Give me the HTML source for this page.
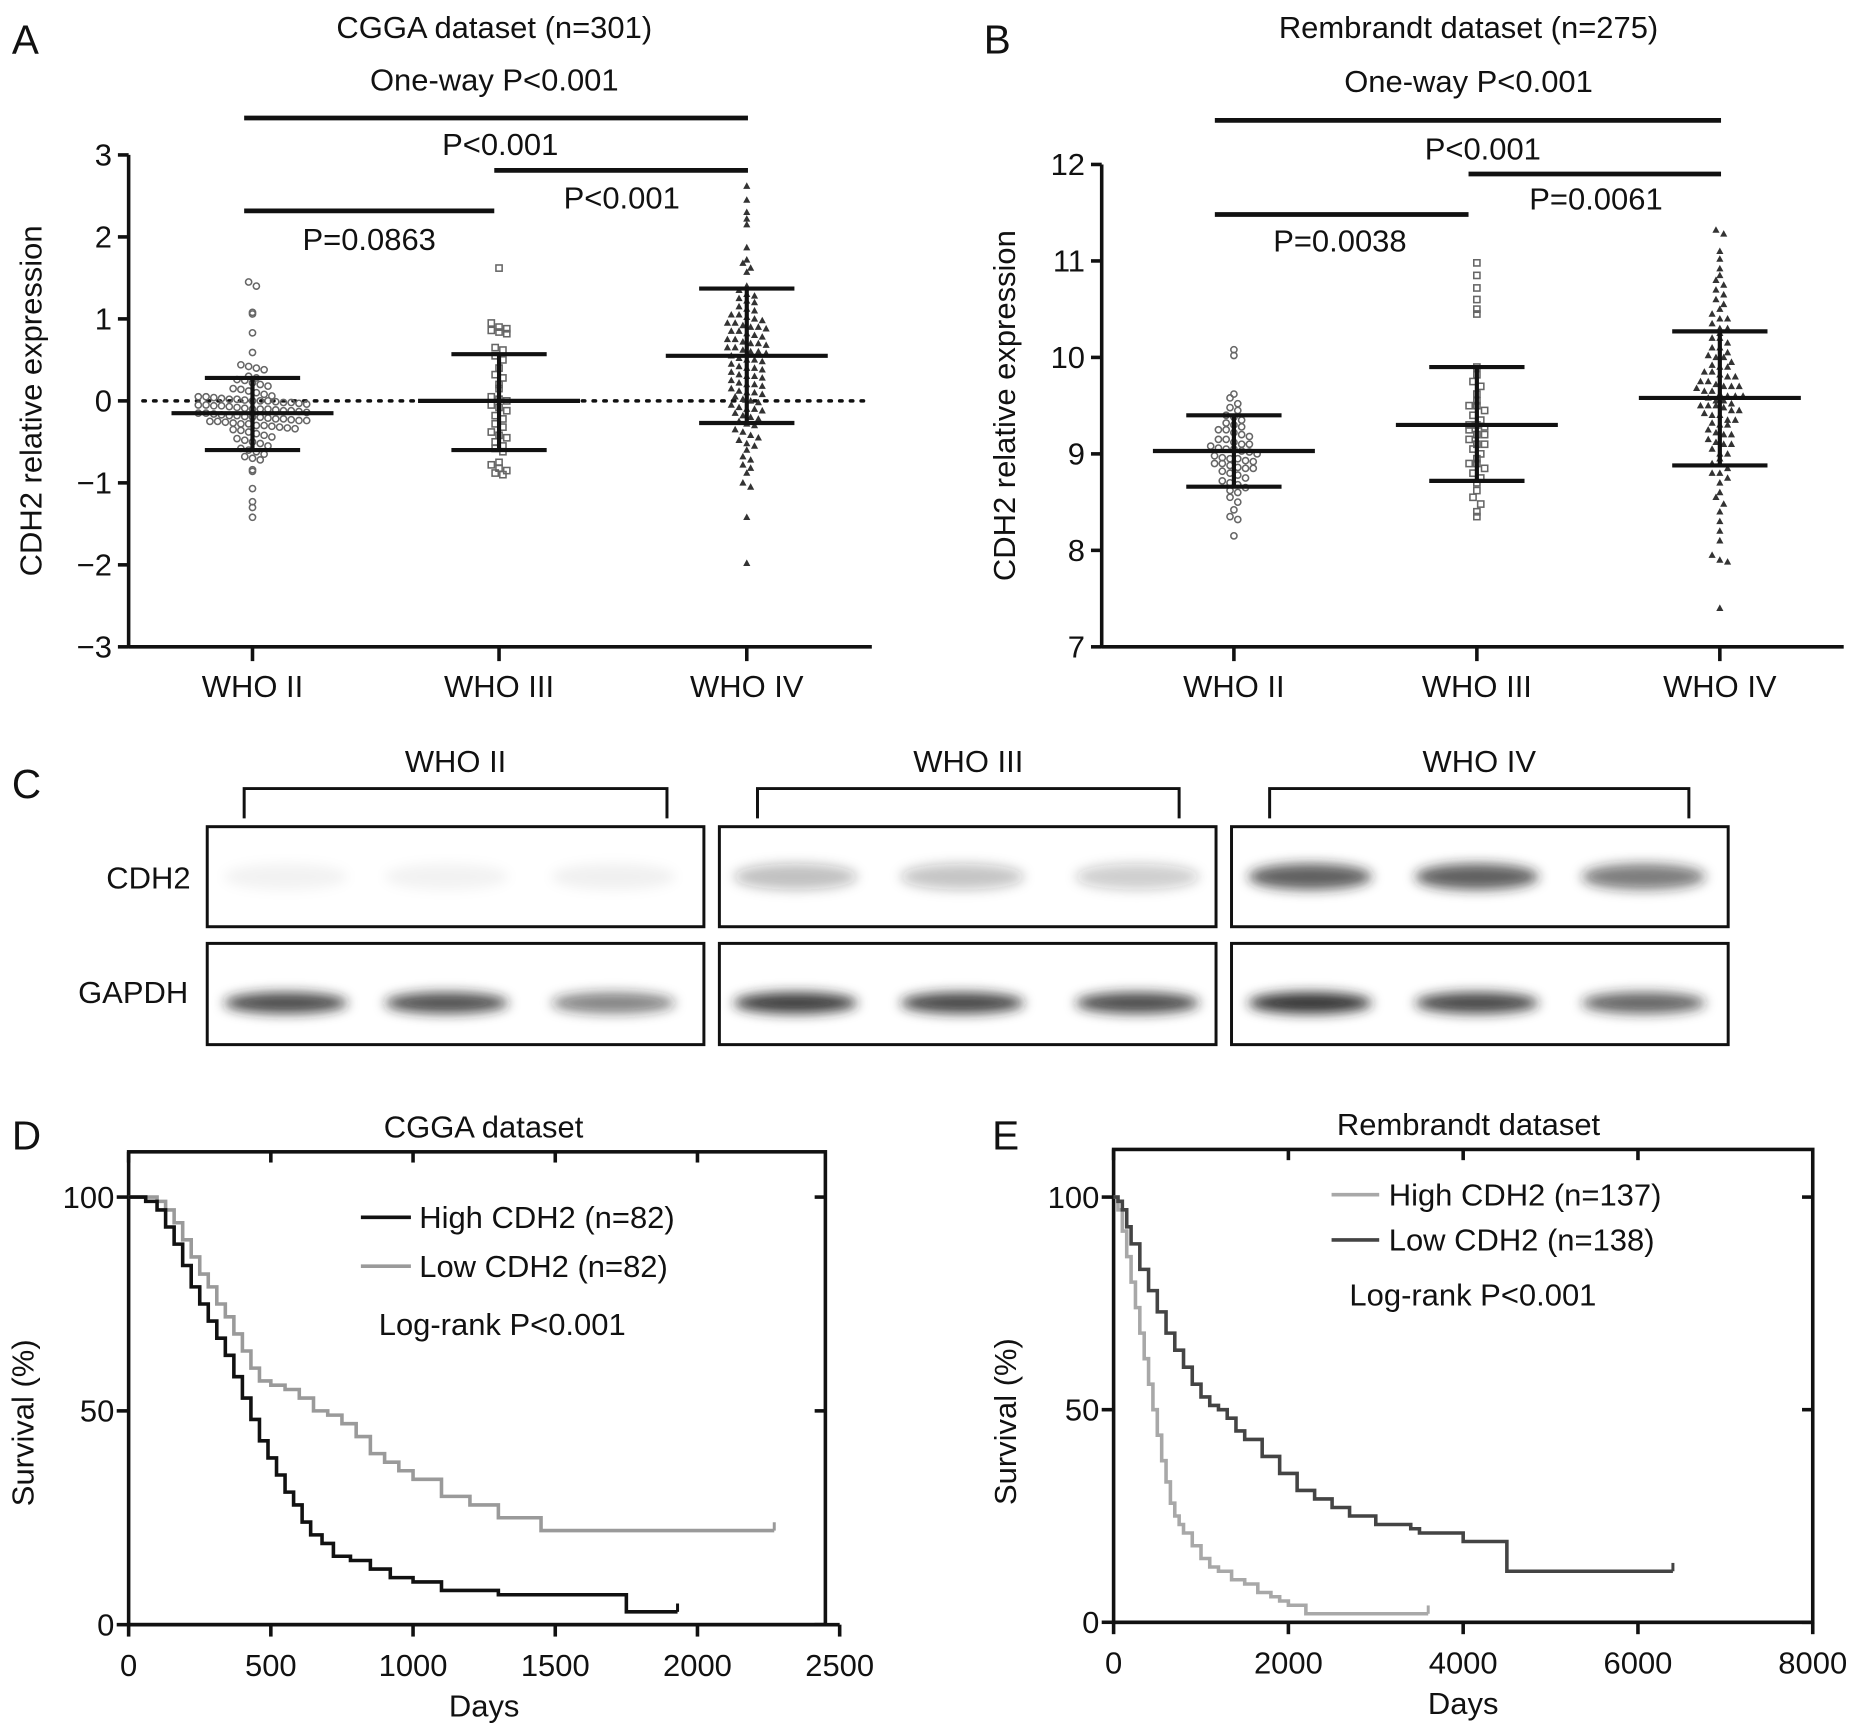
<!DOCTYPE html>
<html><head><meta charset="utf-8"><style>
html,body{margin:0;padding:0;background:#fff}
svg{display:block}
text{font-family:"Liberation Sans",Arial,sans-serif;fill:#111}
</style></head><body>
<svg id="fig" width="1858" height="1726" viewBox="0 0 1560 1449" xmlns="http://www.w3.org/2000/svg">
<defs>
<filter id="blur" x="-30%" y="-80%" width="160%" height="260%"><feGaussianBlur stdDeviation="5"/></filter>
</defs>
<g id="gA"></g>
<g id="gB"></g>
<g id="gC"></g>
<g id="gD"></g>
<g id="gE"></g>
</svg>
<script>
// ---------- data ----------
const groupLabels = ["WHO II","WHO III","WHO IV"];
const aTicks = [3,2,1,0,-1,-2,-3];
const aMeans = [-0.15,0.0,0.55];
const aSdHi = [0.28,0.57,1.37];
const aSdLo = [-0.60,-0.60,-0.27];
const aII = [1.45,1.40,1.08,1.06,0.83,0.59,0.44,0.42,0.40,0.38,0.30,0.28,0.26,0.25,0.22,0.20,0.18,0.15,0.14,0.12,0.10,0.08,0.06,0.05,0.04,0.03,0.02,0.01,0.0,-0.01,-0.02,-0.03,-0.04,-0.05,-0.06,-0.07,-0.08,-0.09,-0.10,-0.11,-0.12,-0.13,-0.14,-0.15,-0.16,-0.17,-0.18,-0.19,-0.20,-0.21,-0.22,-0.23,-0.24,-0.25,-0.26,-0.27,-0.28,-0.30,-0.31,-0.32,-0.33,-0.34,-0.36,-0.38,-0.40,-0.42,-0.44,-0.46,-0.48,-0.50,-0.52,-0.55,-0.58,-0.60,-0.62,-0.65,-0.68,-0.70,-0.72,-0.84,-0.86,-1.07,-1.23,-1.30,-1.42,0.05,-0.05,-0.15,-0.25,-0.35,-0.1,-0.2,-0.3,0.0,-0.12,-0.22,0.02,-0.02,-0.06,-0.18,-0.28,-0.24,0.0,-0.1];
const aIII = [1.62,0.95,0.90,0.88,0.86,0.84,0.82,0.65,0.62,0.55,0.50,0.40,0.32,0.28,0.20,0.15,0.05,0.02,0.0,-0.05,-0.08,-0.12,-0.18,-0.22,-0.28,-0.32,-0.38,-0.42,-0.45,-0.50,-0.55,-0.58,-0.62,-0.75,-0.78,-0.82,-0.85,-0.88,-0.90];
const aIV = [2.62,2.45,2.30,2.22,2.15,1.87,1.72,1.68,1.62,1.57,1.40,1.35,1.30,1.28,1.25,1.22,1.15,1.12,1.10,1.05,1.02,1.0,0.98,0.95,0.92,0.90,0.88,0.85,0.82,0.80,0.78,0.75,0.72,0.70,0.68,0.65,0.62,0.60,0.58,0.55,0.52,0.50,0.48,0.45,0.42,0.40,0.38,0.35,0.32,0.30,0.28,0.25,0.22,0.20,0.18,0.15,0.12,0.10,0.08,0.05,0.02,0.0,-0.02,-0.05,-0.08,-0.10,-0.12,-0.15,-0.18,-0.20,-0.22,-0.25,-0.28,-0.30,-0.35,-0.38,-0.42,-0.45,-0.48,-0.52,-0.55,-0.60,-0.68,-0.72,-0.78,-0.82,-0.88,-1.0,-1.05,-1.42,-1.98,0.7,0.9,0.3,0.5,1.2,0.6,0.1,0.85,0.75,0.4,0.2,-0.1,0.65,1.05,0.95];
const bTicks = [12,11,10,9,8,7];
const bMeans = [9.03,9.30,9.58];
const bSdHi = [9.40,9.90,10.27];
const bSdLo = [8.66,8.72,8.88];
const bII = [10.08,10.02,9.62,9.58,9.52,9.48,9.45,9.40,9.38,9.35,9.32,9.30,9.28,9.25,9.22,9.20,9.18,9.15,9.12,9.10,9.08,9.06,9.05,9.03,9.02,9.0,8.98,8.96,8.95,8.93,8.92,8.90,8.88,8.86,8.85,8.82,8.80,8.78,8.75,8.72,8.70,8.68,8.65,8.62,8.60,8.55,8.50,8.42,8.35,8.32,8.15,9.15,9.05,8.95,8.85,9.25,9.1,8.9];
const bIII = [10.98,10.85,10.72,10.60,10.50,10.45,9.90,9.82,9.75,9.70,9.62,9.55,9.50,9.45,9.40,9.35,9.30,9.28,9.25,9.20,9.15,9.10,9.05,9.0,8.95,8.90,8.85,8.80,8.75,8.70,8.62,8.55,8.48,8.40,8.35,9.2,9.3,9.1,8.9,9.5];
const bIV = [11.32,11.28,11.10,11.02,10.92,10.85,10.80,10.75,10.70,10.65,10.60,10.55,10.50,10.45,10.40,10.35,10.30,10.25,10.20,10.15,10.10,10.05,10.0,9.95,9.90,9.85,9.80,9.75,9.70,9.65,9.60,9.55,9.50,9.45,9.40,9.35,9.30,9.25,9.20,9.15,9.10,9.05,9.0,8.95,8.90,8.85,8.80,8.75,8.70,8.60,8.55,8.48,8.40,8.30,8.20,8.10,7.95,7.90,7.88,7.40,9.6,9.7,9.5,9.8,9.4,9.9,9.3,10.0,9.2,10.1,9.1,10.2,9.0,9.6,9.7,9.5,9.55,9.65,9.75,9.45,9.35,9.85,10.3,10.4,8.9,8.8,9.62,9.52,9.42,9.72,9.82,9.32,9.22,9.12,9.92,10.02,9.58,9.48,9.68];
// blot intensities (0..1)
const cdh2Int = [[0.05,0.05,0.06],[0.28,0.26,0.22],[0.72,0.72,0.58]];
const gapdhInt = [[0.80,0.78,0.55],[0.88,0.82,0.80],[0.92,0.82,0.70]];
// survival D (days, percent)
const dHighT = [0,60,100,130,160,190,220,250,280,310,340,370,400,430,460,490,520,550,580,610,640,680,720,780,850,920,1000,1100,1300,1700,1750,1930];
const dHighS = [100,99,97,93,89,84,79,75,71,67,63,58,53,48,43,39,35,31,28,24,21,19,16,15,13,11,10,8,7,7,3,3];
const dLowT = [0,100,130,160,190,220,250,280,310,340,370,400,430,460,500,550,600,650,700,750,800,850,900,950,1000,1100,1200,1300,1450,2270];
const dLowS = [100,99,97,94,90,86,82,79,75,72,68,64,60,57,56,55,53,50,49,47,44,40,38,36,34,30,28,25,22,22];
const eHighT = [0,50,100,150,200,250,300,350,400,450,500,550,600,650,700,750,800,900,1000,1100,1200,1350,1500,1650,1800,1900,2000,2200,3600];
const eHighS = [100,97,92,86,80,74,68,62,56,50,44,38,33,28,25,23,21,18,15,13,12,10,9,7,6,5,4,2,2];
const eLowT = [0,50,100,150,200,300,400,500,600,700,800,900,1000,1100,1200,1300,1400,1500,1700,1900,2100,2300,2500,2700,3000,3400,3500,4000,4500,6400];
const eLowS = [100,99,97,93,89,83,78,73,68,64,60,56,53,51,50,48,45,43,39,35,31,29,27,25,23,22,21,19,12,12];
const dXTicks = [0,500,1000,1500,2000,2500];
const eXTicks = [0,2000,4000,6000,8000];
const survTicks = [0,50,100];

// ---------- helpers ----------
const NS="http://www.w3.org/2000/svg";
function mk(parent,tag,attrs,txt){const e=document.createElementNS(NS,tag);for(const k in attrs)e.setAttribute(k,attrs[k]);if(txt!==undefined)e.textContent=txt;parent.appendChild(e);return e;}
function line(p,x1,y1,x2,y2,w,c,name){const e=mk(p,'line',{x1,y1,x2,y2,stroke:c||'#111','stroke-width':w||2});

return e;}
function txt(p,x,y,s,size,anchor,name,extra){const e=mk(p,'text',Object.assign({x,y,'font-size':size||24,'text-anchor':anchor||'middle'},extra||{}),s);

return e;}

function scatterPanel(g,o){
  const y=v=>o.y0+(o.vmax-v)*(o.y1-o.y0)/(o.vmax-o.vmin);
  line(g,o.ax,o.y0,o.ax,o.y1+1,3,'#111','y-axis');
  line(g,o.ax,o.y1,o.axEnd,o.y1,3,'#111','x-axis');
  o.ticks.forEach(t=>{line(g,o.ax-9,y(t),o.ax,y(t),3,'#111','y-tick');
    txt(g,o.ax-14,y(t)+9,(t<0?'\u2212'+(-t):String(t)),26,'end','y-tick-label');});
  o.cx.forEach((cx,i)=>{line(g,cx,o.y1,cx,o.y1+12,3,'#111','x-tick');
    txt(g,cx,o.y1+42,groupLabels[i],26,'middle','x-tick-label');});
  if(o.dotted){const d=line(g,o.ax+12,y(0),o.axEnd,y(0),3,'#111','zero-reference-line');d.setAttribute('stroke-dasharray','2,7');d.setAttribute('stroke-linecap','round');}
  o.data.forEach((vals,i)=>{
    const sorted=[...vals].sort((a,b)=>b-a);
    const bins={};
    sorted.forEach(v=>{const k=Math.round(y(v)/7);(bins[k]=bins[k]||[]).push(v);});
    Object.keys(bins).forEach(k=>{const arr=bins[k];const n=arr.length;
      arr.forEach((v,j)=>{const px=o.cx[i]+(j-(n-1)/2)*6.5;const py=y(v);let e;
        if(o.shapes[i]==='c'){e=mk(g,'circle',{cx:px,cy:py,r:2.6,fill:'none',stroke:'#666','stroke-width':1.3});}
        else if(o.shapes[i]==='s'){e=mk(g,'rect',{x:px-2.6,y:py-2.6,width:5.2,height:5.2,fill:'none',stroke:'#666','stroke-width':1.3});}
        else {e=mk(g,'path',{d:`M${px},${py-3.2}L${px+3},${py+2.3}L${px-3},${py+2.3}Z`,fill:'#333'});}
        
        
      });});
  });
  o.cx.forEach((cx,i)=>{
    line(g,cx-68,y(o.means[i]),cx+68,y(o.means[i]),3.5,'#111','mean-line');
    line(g,cx,y(o.hi[i]),cx,y(o.lo[i]),3.5,'#111','sd-bar');
    line(g,cx-40,y(o.hi[i]),cx+40,y(o.hi[i]),3.5,'#111','sd-cap-upper');
    line(g,cx-40,y(o.lo[i]),cx+40,y(o.lo[i]),3.5,'#111','sd-cap-lower');
  });
  txt(g,0,0,'CDH2 relative expression',26,'middle','y-axis-title',{transform:`translate(${o.ylx},${(o.y0+o.y1)/2}) rotate(-90)`});
}

// ---------- Panel A ----------
const gA=document.getElementById('gA');
txt(gA,10,45,'A',34,'start','panel-letter-a');
txt(gA,415,32,'CGGA dataset (n=301)',26,'middle','chart-title');
txt(gA,415,76,'One-way   P<0.001',26,'middle','anova-p-value');
line(gA,205,99,628,99,4,'#111','bracket-ii-iv');
line(gA,415,143,628,143,4,'#111','bracket-iii-iv');
line(gA,205,177,415,177,4,'#111','bracket-ii-iii');
txt(gA,420,130,'P<0.001',26,'middle','p-ii-iv');
txt(gA,522,175,'P<0.001',26,'middle','p-iii-iv');
txt(gA,310,210,'P=0.0863',26,'middle','p-ii-iii');
scatterPanel(gA,{ax:108,axEnd:732,y0:130,y1:543,vmax:3,vmin:-3,ticks:aTicks,cx:[212,419,627],dotted:true,
  data:[aII,aIII,aIV],shapes:['c','s','t'],means:aMeans,hi:aSdHi,lo:aSdLo,ylx:35});

// ---------- Panel B ----------
const gB=document.getElementById('gB');
txt(gB,826,45,'B',34,'start','panel-letter-b');
txt(gB,1233,32,'Rembrandt dataset (n=275)',26,'middle','chart-title');
txt(gB,1233,77,'One-way   P<0.001',26,'middle','anova-p-value');
line(gB,1020,101,1445,101,4,'#111','bracket-ii-iv');
line(gB,1233,146,1445,146,4,'#111','bracket-iii-iv');
line(gB,1020,180,1233,180,4,'#111','bracket-ii-iii');
txt(gB,1245,134,'P<0.001',26,'middle','p-ii-iv');
txt(gB,1340,176,'P=0.0061',26,'middle','p-iii-iv');
txt(gB,1125,211,'P=0.0038',26,'middle','p-ii-iii');
scatterPanel(gB,{ax:925,axEnd:1548,y0:138,y1:543,vmax:12,vmin:7,ticks:bTicks,cx:[1036,1240,1444],dotted:false,
  data:[bII,bIII,bIV],shapes:['c','s','t'],means:bMeans,hi:bSdHi,lo:bSdLo,ylx:852});

// ---------- Panel C ----------
const gC=document.getElementById('gC');
txt(gC,10,670,'C',34,'start','panel-letter-c');
const boxX=[[174,591],[604,1021],[1034,1451]];
const brX=[[205,560],[636,990],[1066,1418]];
const lanes=[[240,375,515],[668,808,955],[1100,1240,1380]];
boxX.forEach((b,i)=>{
  txt(gC,(brX[i][0]+brX[i][1])/2,648,groupLabels[i],26,'middle','group-label');
  const br=mk(gC,'path',{d:`M${brX[i][0]},687V662H${brX[i][1]}V687`,fill:'none',stroke:'#111','stroke-width':2.5});
  
  
  [[694,778,cdh2Int,736],[792,877,gapdhInt,842]].forEach(([t,bt,ints,cy])=>{
    const r=mk(gC,'rect',{x:b[0],y:t,width:b[1]-b[0],height:bt-t,fill:'#fff',stroke:'#111','stroke-width':2.5});
    
    
    lanes[i].forEach((lx,j)=>{const v=ints[i][j];
      const e=mk(gC,'ellipse',{cx:lx,cy:cy,rx:52,ry:ints===cdh2Int?11:9,fill:'#222','fill-opacity':v,filter:'url(#blur)'});
      
      });
  });
});
txt(gC,160,746,'CDH2',26,'end','row-label-cdh2');
txt(gC,158,842,'GAPDH',26,'end','row-label-gapdh');

// ---------- survival panels ----------
function survPanel(g,o){
  const sx=t=>o.x0+t*(o.x1-o.x0)/o.tmax;
  const sy=s=>o.y0+(100-s)*(o.yz-o.y0)/100;
  const fr=mk(g,'rect',{x:o.x0,y:o.top,width:o.right-o.x0,height:o.yz-o.top,fill:'none',stroke:'#111','stroke-width':3});
  
  
  line(g,o.x0,o.yz,o.x1,o.yz,3,'#111','x-axis');
  o.xt.forEach(t=>{line(g,sx(t),o.yz,sx(t),o.yz+10,3,'#111','x-tick');
    if(sx(t)<o.right) line(g,sx(t),o.top,sx(t),o.top+9,3,'#111','x-tick-top');
    txt(g,sx(t),o.yz+43,String(t),26,'middle','x-tick-label');});
  survTicks.forEach(s=>{line(g,o.x0-10,sy(s),o.x0,sy(s),3,'#111','y-tick');
    line(g,o.right-9,sy(s),o.right,sy(s),3,'#111','y-tick-right');
    txt(g,o.x0-12,sy(s)+9,String(s),26,'end','y-tick-label');});
  txt(g,(o.x0+o.x1)/2,o.yz+77,'Days',26,'middle','x-axis-title');
  txt(g,0,0,'Survival (%)',26,'middle','y-axis-title',{transform:`translate(${o.ylx},${(o.y0+o.yz)/2+10}) rotate(-90)`});
  o.series.forEach(s=>{
    let d=`M${sx(s.t[0])},${sy(s.s[0])}`;
    for(let i=1;i<s.t.length;i++){d+=`H${sx(s.t[i])}V${sy(s.s[i])}`;}
    const p=mk(g,'path',{d,fill:'none',stroke:s.c,'stroke-width':3});
    
    
    const last=s.t.length-1;
    line(g,sx(s.t[last]),sy(s.s[last])-7,sx(s.t[last]),sy(s.s[last]),2.5,s.c,'censor-mark');
  });
}
const gD=document.getElementById('gD');
txt(gD,10,965,'D',34,'start','panel-letter-d');
txt(gD,406,955,'CGGA dataset',26,'middle','chart-title');
survPanel(gD,{x0:108,x1:705,right:693,top:967,y0:1005,yz:1364,tmax:2500,xt:dXTicks,ylx:28,
  series:[{t:dLowT,s:dLowS,c:'#9a9a9a',name:'low-cdh2-curve'},{t:dHighT,s:dHighS,c:'#111',name:'high-cdh2-curve'}]});
line(gD,303,1022,345,1022,3,'#111','legend-swatch-high');
txt(gD,352,1031,'High CDH2 (n=82)',26,'start','legend-entry-high');
line(gD,303,1063,345,1063,3,'#9a9a9a','legend-swatch-low');
txt(gD,352,1072,'Low CDH2 (n=82)',26,'start','legend-entry-low');
txt(gD,318,1121,'Log-rank P<0.001',26,'start','logrank-p');

const gE=document.getElementById('gE');
txt(gE,833,965,'E',34,'start','panel-letter-e');
txt(gE,1233,953,'Rembrandt dataset',26,'middle','chart-title');
survPanel(gE,{x0:935,x1:1522,right:1522,top:965,y0:1005,yz:1362,tmax:8000,xt:eXTicks,ylx:853,
  series:[{t:eHighT,s:eHighS,c:'#a8a8a8',name:'high-cdh2-curve'},{t:eLowT,s:eLowS,c:'#444',name:'low-cdh2-curve'}]});
line(gE,1118,1003,1158,1003,3,'#a8a8a8','legend-swatch-high');
txt(gE,1166,1012,'High CDH2 (n=137)',26,'start','legend-entry-high');
line(gE,1118,1041,1158,1041,3,'#444','legend-swatch-low');
txt(gE,1166,1050,'Low CDH2 (n=138)',26,'start','legend-entry-low');
txt(gE,1133,1096,'Log-rank P<0.001',26,'start','logrank-p');
</script>
</body></html>
